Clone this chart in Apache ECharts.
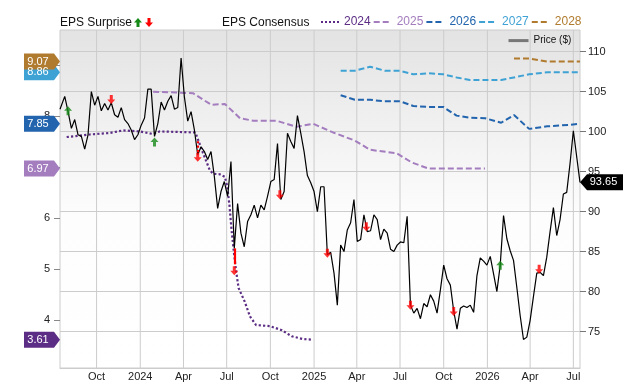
<!DOCTYPE html>
<html>
<head>
<meta charset="utf-8">
<script src="https://cdn.jsdelivr.net/npm/echarts@6/dist/echarts.min.js"></script>
<style>
html, body { margin: 0; padding: 0; background: #fff; }
#main { width: 640px; height: 382px; }
</style>
</head>
<body>
<div id="main"></div>
<script>
// weekly price ($), right axis
const priceDates = [
  '2023-07-16','2023-07-26','2023-08-02','2023-08-09','2023-08-16','2023-08-23','2023-08-30','2023-09-06','2023-09-13','2023-09-20',
  '2023-09-27','2023-10-04','2023-10-11','2023-10-18','2023-10-25','2023-11-01','2023-11-08','2023-11-15','2023-11-22','2023-11-29',
  '2023-12-06','2023-12-13','2023-12-20','2023-12-27','2024-01-03','2024-01-10','2024-01-17','2024-01-24','2024-01-31','2024-02-07',
  '2024-02-14','2024-02-21','2024-02-28','2024-03-06','2024-03-13','2024-03-20','2024-03-27','2024-04-03','2024-04-10','2024-04-17',
  '2024-04-24','2024-05-01','2024-05-08','2024-05-15','2024-05-22','2024-05-29','2024-06-05','2024-06-12','2024-06-19','2024-06-26',
  '2024-07-03','2024-07-10','2024-07-17','2024-07-24','2024-07-31','2024-08-07','2024-08-14','2024-08-21','2024-08-28','2024-09-04',
  '2024-09-11','2024-09-18','2024-09-25','2024-10-02','2024-10-09','2024-10-16','2024-10-23','2024-10-30','2024-11-06','2024-11-13',
  '2024-11-20','2024-11-27','2024-12-04','2024-12-11','2024-12-18','2024-12-25','2025-01-01','2025-01-08','2025-01-15','2025-01-22',
  '2025-01-29','2025-02-05','2025-02-12','2025-02-19','2025-02-26','2025-03-05','2025-03-12','2025-03-19','2025-03-26','2025-04-02',
  '2025-04-09','2025-04-16','2025-04-23','2025-04-30','2025-05-07','2025-05-14','2025-05-21','2025-05-28','2025-06-04','2025-06-11',
  '2025-06-18','2025-06-25','2025-07-02','2025-07-09','2025-07-16','2025-07-23','2025-07-30','2025-08-06','2025-08-13','2025-08-20',
  '2025-08-27','2025-09-03','2025-09-10','2025-09-17','2025-09-24','2025-10-01','2025-10-08','2025-10-15','2025-10-22','2025-10-29',
  '2025-11-05','2025-11-12','2025-11-19','2025-11-26','2025-12-03','2025-12-10','2025-12-17','2025-12-24','2025-12-31','2026-01-07',
  '2026-01-14','2026-01-21','2026-01-28','2026-02-04','2026-02-11','2026-02-18','2026-02-25','2026-03-04','2026-03-11','2026-03-18',
  '2026-03-25','2026-04-01','2026-04-08','2026-04-15','2026-04-22','2026-04-29','2026-05-06','2026-05-13','2026-05-20','2026-05-27',
  '2026-06-03','2026-06-10','2026-06-17','2026-06-24','2026-07-01','2026-07-15'
];
const priceValues = [
  102.8,104.4,102.5,100.4,101.5,99.6,99.4,97.8,99.6,105,
  103.3,104.4,102.6,103.5,102.7,103.6,102.1,101.8,103,101.5,
  101,100.2,99,99.6,100.8,101.7,105.3,105.3,99.4,101,
  103.7,102.7,103.8,104.5,102.8,103,109.2,104.3,101.3,102.5,
  100.2,97.1,98.1,97.5,96.5,97.5,94.4,90.4,92.5,93.75,
  91.9,96.25,85.4,91,87.3,85.6,88.75,89.6,90.8,89.2,
  90.8,90.2,91.9,93.75,94,98.5,91.5,92.5,99.8,98.75,
  97.9,102,99.8,97.5,94.5,93.6,92.5,90,93.1,93.1,
  84.6,84.9,82.3,78.3,85.8,85,87.7,88.6,91.5,86.25,
  86.5,89.6,87.5,87.6,89.6,89,86.5,87.8,87.3,85.3,
  85,85.8,86.2,86.1,89.4,78.3,77.3,77.9,76.6,78.5,
  78.1,79.6,78.8,77.3,80.2,83.3,81.6,80.8,77.6,75.3,
  77.9,78.2,78,78.3,77.4,82,84.2,83.8,83.3,84.4,
  82.2,80,83.3,89.5,86.6,85.1,83.9,80.5,77,74,
  74.3,76.4,79.4,82.3,82.4,82,84.3,87.5,90.5,87,
  89,92.2,92.4,96,100.1,93.65
];

// EPS consensus by fiscal year, left axis
const eps2024Dates = ['2023-07-30','2023-09-17','2023-10-29','2023-11-26','2023-12-31','2024-01-28','2024-02-11','2024-04-25','2024-04-28','2024-05-12',
  '2024-05-26','2024-06-02','2024-06-16','2024-06-27','2024-07-02','2024-07-07','2024-07-11','2024-07-16','2024-07-21','2024-07-26',
  '2024-08-08','2024-08-19','2024-09-01','2024-09-30','2024-10-25','2024-11-15','2024-12-07','2024-12-30'];
const eps2024 = [7.59,7.64,7.67,7.72,7.70,7.65,7.70,7.68,7.63,7.28,
  6.95,6.87,6.86,6.81,6.63,6.24,5.79,5.34,4.95,4.63,
  4.36,4.07,3.90,3.88,3.80,3.68,3.63,3.61];

const eps2025Dates = ['2024-01-28','2024-03-24','2024-04-21','2024-05-30','2024-06-27','2024-07-29','2024-08-26','2024-10-14','2024-11-25','2024-12-30',
  '2025-02-10','2025-03-28','2025-04-29','2025-06-24','2025-07-26','2025-08-30','2025-12-27'];
const eps2025 = [8.48,8.46,8.45,8.22,8.24,7.96,7.91,7.91,7.79,7.85,7.68,7.52,7.34,7.27,7.09,6.97,6.97];

const eps2026Dates = ['2025-02-26','2025-03-28','2025-04-29','2025-05-30','2025-07-01','2025-07-29','2025-08-30','2025-09-30','2025-10-28','2025-11-25',
  '2025-12-27','2026-01-30','2026-02-26','2026-03-30','2026-05-07','2026-06-24','2026-07-15'];
const eps2026 = [8.41,8.32,8.32,8.29,8.29,8.20,8.18,8.18,8.01,7.97,7.96,7.87,8.02,7.75,7.80,7.83,7.85];

const eps2027Dates = eps2026Dates;
const eps2027 = [8.89,8.89,8.97,8.89,8.89,8.82,8.84,8.82,8.76,8.71,8.71,8.71,8.76,8.82,8.86,8.86,8.86];

const eps2028Dates = ['2026-02-26','2026-03-30','2026-05-07','2026-07-15'];
const eps2028 = [9.13,9.13,9.07,9.07];

// EPS surprise arrows, drawn on the price line
const surpriseDates = ['2023-08-02','2023-11-01','2024-01-31','2024-05-01','2024-07-17','2024-10-21','2025-01-29','2025-04-21','2025-07-23','2025-10-22','2026-01-28','2026-04-20'];
const surpriseValues = [102.6,104.0,98.7,96.8,82.6,92.1,84.8,88.1,78.3,77.5,83.3,82.8];
const surpriseDir = ['up','down','up','down','down','down','down','down','down','down','up','down'];
const stemDates = ['2024-05-01','2024-07-17'];
const stemTop = [98.8,85.4];
const stemBottom = [97.4,83.4];

const xTickDates = ['2023-10-01','2024-01-01','2024-04-01','2024-07-01','2024-10-01','2025-01-01','2025-04-01','2025-07-01','2025-10-01','2026-01-01','2026-04-01','2026-07-01'];
const epsTicks = [4,5,6,7,8,9];
const priceTicks = [75,80,85,90,95,100,105,110];
const xStart = '2023-07-16';
const xEnd = '2026-07-15';
const priceMin = 70.44;
const priceMax = 112.7;

const FONT = '"Liberation Sans", Arial, sans-serif';
const monthNames = ['Jan','Feb','Mar','Apr','May','Jun','Jul','Aug','Sep','Oct','Nov','Dec'];

function toTime(s) {
    let p = s.split('-');
    return new Date(+p[0], +p[1] - 1, +p[2]).getTime();
}
function zip(dates, values) {
    return dates.map((d, i) => [toTime(d), values[i]]);
}

const xMin = toTime(xStart);
const xMax = toTime(xEnd);

const upArrow = 'path://M4,0 L8,4.5 L5.5,4.5 L5.5,9 L2.5,9 L2.5,4.5 L0,4.5 Z';
const downArrow = 'path://M2.5,0 L5.5,0 L5.5,4.5 L8,4.5 L4,9 L0,4.5 L2.5,4.5 Z';
const leftBadge = 'path://M0,0 L30,0 L36,8 L30,16 L0,16 Z';
const rightBadge = 'path://M7,0 L43,0 L43,16 L7,16 L0,8 Z';

let consensus = [
    {name: '2024', dates: eps2024Dates, values: eps2024, color: '#5c2d85', dash: 'dotted', width: 2.2},
    {name: '2025', dates: eps2025Dates, values: eps2025, color: '#a47dbf', dash: [6, 3], width: 2},
    {name: '2026', dates: eps2026Dates, values: eps2026, color: '#2264ad', dash: [6, 3], width: 2},
    {name: '2027', dates: eps2027Dates, values: eps2027, color: '#3fa2d4', dash: [6, 3], width: 2},
    {name: '2028', dates: eps2028Dates, values: eps2028, color: '#b07b2e', dash: [6, 3], width: 2}
];

let series = [];

// vertical grid lines at the quarter ticks, placed through the x scale
series.push({
    name: 'xgrid',
    type: 'custom',
    xAxisIndex: 0,
    yAxisIndex: 1,
    z: 2,
    silent: true,
    clip: false,
    encode: {x: 0, y: 1},
    data: xTickDates.map(d => [toTime(d), priceMin]),
    renderItem: function (params, api) {
        let t = api.value(0);
        let p1 = api.coord([t, priceMin]);
        let p2 = api.coord([t, priceMax]);
        return {
            type: 'line',
            silent: true,
            shape: {x1: p1[0], y1: p1[1], x2: p2[0], y2: p2[1]},
            style: {stroke: '#cccccc', lineWidth: 1}
        };
    }
});

consensus.forEach(c => {
    let last = c.values[c.values.length - 1];
    series.push({
        name: c.name,
        type: 'line',
        xAxisIndex: 0,
        yAxisIndex: 0,
        data: zip(c.dates, c.values),
        symbol: 'none',
        z: 3,
        lineStyle: {color: c.color, width: c.width, type: c.dash},
        itemStyle: {color: c.color},
        markPoint: {
            silent: true,
            animation: false,
            symbol: leftBadge,
            symbolSize: [36, 16],
            symbolOffset: [-18, 0],
            itemStyle: {color: c.color},
            label: {show: true, color: '#fff', fontSize: 11, fontFamily: FONT, offset: [-4, 0],
                formatter: p => p.value.toFixed(2)},
            data: [{coord: [xMin, last], value: last}]
        }
    });
});

let lastPrice = priceValues[priceValues.length - 1];
series.push({
    name: 'Price ($)',
    type: 'line',
    xAxisIndex: 0,
    yAxisIndex: 1,
    data: zip(priceDates, priceValues),
    symbol: 'none',
    z: 4,
    lineStyle: {color: '#000', width: 1.2},
    itemStyle: {color: '#000'},
    markPoint: {
        silent: true,
        animation: false,
        symbol: rightBadge,
        symbolSize: [43, 16],
        symbolOffset: [21.5, 0],
        itemStyle: {color: '#000'},
        label: {show: true, color: '#fff', fontSize: 11, fontFamily: FONT, offset: [2, 0],
            formatter: p => p.value.toFixed(2)},
        data: [{coord: [toTime(priceDates[priceDates.length - 1]), lastPrice], value: lastPrice}]
    }
});

series.push({
    name: 'surprise',
    type: 'scatter',
    xAxisIndex: 0,
    yAxisIndex: 1,
    z: 6,
    silent: true,
    symbolSize: [8, 9],
    data: surpriseDates.map((d, i) => ({
        value: [toTime(d), surpriseValues[i]],
        symbol: surpriseDir[i] === 'up' ? upArrow : downArrow,
        itemStyle: {color: surpriseDir[i] === 'up' ? '#168a16' : '#ff0000'}
    })),
    markLine: {
        silent: true,
        animation: false,
        symbol: 'none',
        label: {show: false},
        lineStyle: {color: '#ff0000', width: 2.2, type: 'solid'},
        data: stemDates.map((d, i) => [
            {coord: [toTime(d), stemTop[i]], lineStyle: {type: i === 0 ? 'dotted' : 'solid'}},
            {coord: [toTime(d), stemBottom[i]]}
        ])
    }
});

let myChart = echarts.init(document.getElementById('main'), null, {renderer: 'canvas'});

let option = {
    animation: false,
    textStyle: {fontFamily: FONT},
    grid: {
        left: 60, right: 60, top: 30, bottom: 12,
        show: true,
        borderColor: '#cccccc',
        borderWidth: 1,
        backgroundColor: new echarts.graphic.LinearGradient(0, 0, 0, 1, [
            {offset: 0, color: '#e3e3e3'},
            {offset: 0.55, color: '#fdfdfd'},
            {offset: 1, color: '#ffffff'}
        ])
    },
    legend: [
        {
            left: 320, top: 16, padding: 0,
            itemWidth: 18, itemHeight: 14, itemGap: 2,
            selectedMode: false,
            textStyle: {fontSize: 12, fontFamily: FONT},
            data: consensus.map(c => ({name: c.name, textStyle: {color: c.color}, itemStyle: {opacity: 0}}))
        },
        {
            left: 507, top: 35, padding: 0,
            itemWidth: 20, itemHeight: 14,
            selectedMode: false,
            textStyle: {fontSize: 10, color: '#111', fontFamily: FONT},
            data: [{name: 'Price ($)', lineStyle: {color: '#777', width: 3}, itemStyle: {opacity: 0}}]
        }
    ],
    graphic: [
        {type: 'text', x: 60, y: 23, style: {text: 'EPS Surprise', font: '12px ' + FONT, fill: '#111', verticalAlign: 'middle'}},
        {type: 'polygon', x: 134, y: 18, shape: {points: [[4,0],[8,4.5],[5.5,4.5],[5.5,9],[2.5,9],[2.5,4.5],[0,4.5]]}, style: {fill: '#168a16'}},
        {type: 'polygon', x: 145, y: 18, shape: {points: [[2.5,0],[5.5,0],[5.5,4.5],[8,4.5],[4,9],[0,4.5],[2.5,4.5]]}, style: {fill: '#ff0000'}},
        {type: 'text', x: 222, y: 23, style: {text: 'EPS Consensus', font: '12px ' + FONT, fill: '#111', verticalAlign: 'middle'}}
    ],
    xAxis: {
        type: 'value',
        min: xMin,
        max: xMax,
        axisLine: {show: true, lineStyle: {color: '#cccccc'}},
        axisTick: {show: false, customValues: xTickDates.map(toTime)},
        splitLine: {show: false},
        axisLabel: {
            customValues: xTickDates.map(toTime),
            margin: 3,
            fontSize: 11,
            color: '#222',
            fontFamily: FONT,
            formatter: function (v) {
                let d = new Date(v);
                return d.getMonth() === 0 ? String(d.getFullYear()) : monthNames[d.getMonth()];
            }
        }
    },
    yAxis: [
        {
            type: 'value',
            position: 'left',
            min: 3.058,
            max: 9.69,
            axisLine: {show: false},
            axisTick: {show: true, length: 6, lineStyle: {color: '#888'}, customValues: epsTicks},
            axisLabel: {customValues: epsTicks, margin: 10, fontSize: 11, color: '#222', fontFamily: FONT},
            splitLine: {show: false}
        },
        {
            type: 'value',
            position: 'right',
            min: priceMin,
            max: priceMax,
            axisLine: {show: false},
            axisTick: {show: true, length: 6, lineStyle: {color: '#777'}, customValues: priceTicks},
            axisLabel: {customValues: priceTicks, margin: 8, fontSize: 11, color: '#222', fontFamily: FONT},
            splitLine: {show: true, lineStyle: {color: '#cccccc', width: 1}}
        }
    ],
    series: series
};

myChart.setOption(option);
</script>
</body>
</html>
